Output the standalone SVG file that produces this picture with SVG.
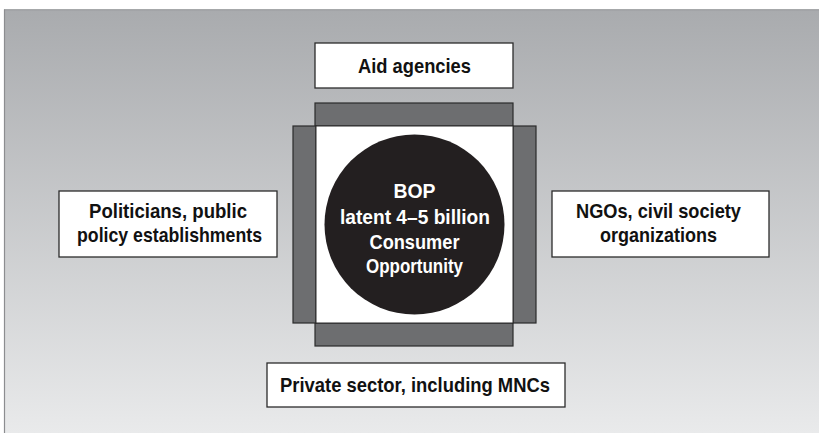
<svg xmlns="http://www.w3.org/2000/svg" width="819" height="433" viewBox="0 0 819 433">
  <defs>
    <linearGradient id="bg" x1="0" y1="0" x2="0" y2="1">
      <stop offset="0" stop-color="#a9abae"/>
      <stop offset="1" stop-color="#e9eaeb"/>
    </linearGradient>
    <style>
      .box { fill: #ffffff; stroke: #2b2b2b; stroke-width: 1.3; }
      .bar { fill: #6d6e70; stroke: #2b2b2b; stroke-width: 1.2; }
      .lbl { font-family: "Liberation Sans", Arial, sans-serif; font-weight: bold; font-size: 21px; fill: #111111; text-anchor: middle; }
      .inv { fill: #ffffff; }
    </style>
  </defs>
  <rect x="0" y="0" width="819" height="433" fill="#ffffff"/>
  <rect x="4" y="9.5" width="815" height="423.5" fill="url(#bg)"/>
  <line x1="4" y1="9.8" x2="819" y2="9.8" stroke="#939598" stroke-width="1"/>
  <line x1="4.5" y1="9.5" x2="4.5" y2="433" stroke="#8c8d90" stroke-width="1.2"/>

  <g id="center">
    <rect class="bar" x="315" y="103" width="198" height="23"/>
    <rect class="bar" x="315" y="323" width="198" height="23"/>
    <rect class="bar" x="293" y="126" width="23" height="197"/>
    <rect class="bar" x="513" y="126" width="23" height="197"/>
    <rect x="316" y="126" width="197" height="197" fill="#ffffff" stroke="#2b2b2b" stroke-width="1"/>
    <circle cx="414.5" cy="224.5" r="90" fill="#231f20"/>
    <text class="lbl inv" x="414.5" y="198" textLength="42" lengthAdjust="spacingAndGlyphs">BOP</text>
    <text class="lbl inv" x="415" y="223.5" textLength="150" lengthAdjust="spacingAndGlyphs">latent 4–5 billion</text>
    <text class="lbl inv" x="414.5" y="248.5" textLength="90" lengthAdjust="spacingAndGlyphs">Consumer</text>
    <text class="lbl inv" x="414.5" y="272.5" textLength="97" lengthAdjust="spacingAndGlyphs">Opportunity</text>
  </g>

  <g id="aid">
    <rect class="box" x="315" y="43" width="198" height="45"/>
    <text class="lbl" x="414.5" y="72.5" textLength="113" lengthAdjust="spacingAndGlyphs">Aid agencies</text>
  </g>

  <g id="politicians">
    <rect class="box" x="59" y="191" width="218" height="66"/>
    <text class="lbl" x="168" y="218" textLength="158" lengthAdjust="spacingAndGlyphs">Politicians, public</text>
    <text class="lbl" x="169.5" y="242" textLength="185" lengthAdjust="spacingAndGlyphs">policy establishments</text>
  </g>

  <g id="ngos">
    <rect class="box" x="552" y="191" width="217" height="66"/>
    <text class="lbl" x="658.5" y="218" textLength="165" lengthAdjust="spacingAndGlyphs">NGOs, civil society</text>
    <text class="lbl" x="658.5" y="242" textLength="117" lengthAdjust="spacingAndGlyphs">organizations</text>
  </g>

  <g id="private">
    <rect class="box" x="267" y="363" width="298" height="44"/>
    <text class="lbl" x="415" y="391.5" textLength="270" lengthAdjust="spacingAndGlyphs">Private sector, including MNCs</text>
  </g>

  <g id="connectors"></g>
</svg>
